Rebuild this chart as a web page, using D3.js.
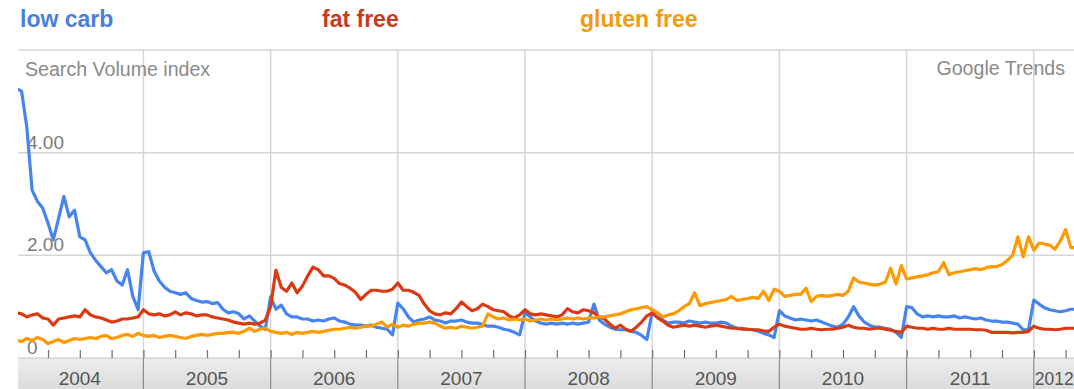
<!DOCTYPE html>
<html>
<head>
<meta charset="utf-8">
<script src="https://cdn.jsdelivr.net/npm/d3@7"></script>
<style>
  body { margin: 0; background: #fff; }
  svg { display: block; font-family: Arial, "Liberation Sans", sans-serif; }
</style>
</head>
<body>
<svg id="chart" width="1074" height="389"></svg>
<script>
// Search volume index, semi-monthly samples starting January 2004
const seriesNames = ["low carb", "fat free", "gluten free"];
const seriesColors = ["#4684ee", "#dc3912", "#ff9900"];
const legendColors = ["#4a80dc", "#c83a1c", "#f29a10"];
const startYear = 2004;
const samplesPerYear = 24;

const lowCarb = [
  5.25, 5.2, 4.5, 3.27, 3.05, 2.92, 2.63, 2.3, 2.72, 3.15,
  2.75, 2.88, 2.36, 2.3, 2.05, 1.9, 1.78, 1.66, 1.72, 1.5,
  1.42, 1.72, 1.2, 0.94, 2.05, 2.07, 1.7, 1.5, 1.38, 1.3,
  1.27, 1.24, 1.27, 1.16, 1.12, 1.09, 1.1, 1.06, 1.08, 0.95,
  0.88, 0.9, 0.86, 0.76, 0.82, 0.72, 0.62, 0.56, 1.19, 0.95,
  1.03, 0.86, 0.8, 0.8, 0.76, 0.76, 0.72, 0.74, 0.72, 0.76,
  0.78, 0.72, 0.7, 0.66, 0.64, 0.64, 0.62, 0.64, 0.6, 0.58,
  0.56, 0.45, 1.07, 0.96, 0.8, 0.7, 0.74, 0.76, 0.8, 0.74,
  0.72, 0.68, 0.72, 0.72, 0.74, 0.7, 0.68, 0.68, 0.65, 0.62,
  0.62, 0.6, 0.56, 0.54, 0.5, 0.45, 0.88, 0.8, 0.72, 0.68,
  0.66, 0.68, 0.66, 0.68, 0.66, 0.68, 0.66, 0.68, 0.7, 1.05,
  0.74, 0.66, 0.6, 0.56, 0.55, 0.55, 0.52, 0.5, 0.44, 0.36,
  0.9, 0.88, 0.74, 0.68, 0.7, 0.7, 0.68, 0.72, 0.7, 0.68,
  0.7, 0.68, 0.68, 0.7, 0.68, 0.62, 0.58, 0.58, 0.56, 0.55,
  0.52, 0.48, 0.45, 0.4, 0.92, 0.82, 0.78, 0.74, 0.76, 0.74,
  0.72, 0.74, 0.7, 0.66, 0.62, 0.6, 0.66, 0.8, 1.0, 0.82,
  0.7, 0.64, 0.6, 0.6, 0.58, 0.56, 0.5, 0.4, 1.0, 0.98,
  0.86, 0.8, 0.82, 0.8, 0.82, 0.8, 0.8, 0.82, 0.78, 0.8,
  0.78, 0.76, 0.78, 0.74, 0.72, 0.72, 0.7, 0.7, 0.68, 0.66,
  0.55, 0.55, 1.13, 1.05, 0.98, 0.94, 0.92, 0.9, 0.92, 0.95,
  0.95
];

const fatFree = [
  0.88, 0.86, 0.8, 0.84, 0.86, 0.78, 0.76, 0.64, 0.76, 0.78,
  0.8, 0.82, 0.8, 0.94, 0.84, 0.8, 0.78, 0.74, 0.7, 0.72,
  0.76, 0.76, 0.78, 0.8, 0.94, 0.86, 0.84, 0.86, 0.82, 0.84,
  0.9, 0.84, 0.88, 0.86, 0.82, 0.84, 0.84, 0.8, 0.78, 0.76,
  0.74, 0.7, 0.68, 0.66, 0.68, 0.66, 0.68, 0.74, 1.0, 1.71,
  1.38, 1.3, 1.46, 1.27, 1.4, 1.6, 1.77, 1.72, 1.6, 1.6,
  1.55, 1.45, 1.42, 1.36, 1.28, 1.14, 1.24, 1.32, 1.32, 1.3,
  1.3, 1.34, 1.46, 1.32, 1.32, 1.28, 1.22, 1.05, 0.92, 0.86,
  0.84, 0.88, 0.86, 0.96, 1.09, 1.0, 0.92, 0.96, 1.05, 1.0,
  0.94, 0.92, 0.9, 0.82, 0.78, 0.84, 0.94, 0.86, 0.84, 0.86,
  0.84, 0.82, 0.8, 0.84, 0.96, 0.9, 0.88, 0.94, 0.92, 0.88,
  0.8, 0.76, 0.66, 0.58, 0.64, 0.56, 0.52, 0.6, 0.7, 0.82,
  0.88, 0.78, 0.72, 0.64, 0.6, 0.62, 0.64, 0.62, 0.64, 0.62,
  0.6, 0.62, 0.64, 0.62, 0.6, 0.58, 0.58, 0.56, 0.56, 0.55,
  0.55, 0.53, 0.52, 0.6, 0.66, 0.62, 0.6, 0.58, 0.56, 0.56,
  0.58, 0.56, 0.55, 0.56, 0.56, 0.58, 0.6, 0.64, 0.6, 0.58,
  0.58, 0.56, 0.58, 0.58, 0.56, 0.54, 0.52, 0.5, 0.62, 0.6,
  0.58, 0.58, 0.56, 0.58, 0.56, 0.56, 0.58, 0.56, 0.56, 0.56,
  0.56, 0.55, 0.55, 0.54, 0.5, 0.5, 0.5, 0.5, 0.49, 0.5,
  0.5, 0.52, 0.62, 0.58, 0.56, 0.56, 0.55, 0.56, 0.58, 0.58,
  0.58
];

const glutenFree = [
  0.35, 0.32, 0.38, 0.34, 0.4, 0.36, 0.28, 0.32, 0.36, 0.3,
  0.34, 0.38, 0.36, 0.38, 0.4, 0.38, 0.42, 0.44, 0.38, 0.4,
  0.44, 0.46, 0.42, 0.48, 0.44, 0.42, 0.44, 0.4, 0.42, 0.44,
  0.42, 0.4, 0.38, 0.42, 0.44, 0.46, 0.44, 0.46, 0.48, 0.48,
  0.5, 0.5, 0.48, 0.52, 0.58, 0.52, 0.56, 0.58, 0.52, 0.5,
  0.48, 0.5, 0.46, 0.5, 0.48, 0.5, 0.52, 0.5, 0.52, 0.54,
  0.56, 0.56, 0.58, 0.6, 0.58, 0.6, 0.62, 0.62, 0.66, 0.7,
  0.6, 0.66, 0.6, 0.64, 0.62, 0.66, 0.68, 0.68, 0.7, 0.68,
  0.62, 0.58, 0.6, 0.58, 0.62, 0.6, 0.58, 0.6, 0.62, 0.86,
  0.8, 0.76, 0.78, 0.74, 0.76, 0.74, 0.76, 0.72, 0.74, 0.76,
  0.74, 0.76, 0.74, 0.76, 0.78, 0.76, 0.78, 0.76, 0.78, 0.78,
  0.8, 0.8, 0.82, 0.84, 0.86, 0.9, 0.94, 0.96, 0.98, 1.0,
  0.94, 0.88, 0.8, 0.84, 0.86, 0.92, 1.0, 1.06, 1.27, 1.02,
  1.06, 1.08, 1.1, 1.12, 1.14, 1.2, 1.12, 1.14, 1.16, 1.18,
  1.16, 1.3, 1.12, 1.34, 1.3, 1.2, 1.22, 1.24, 1.24, 1.36,
  1.1, 1.2, 1.22, 1.2, 1.22, 1.24, 1.22, 1.3, 1.56, 1.48,
  1.46, 1.44, 1.42, 1.44, 1.48, 1.75, 1.44, 1.8, 1.54, 1.56,
  1.58, 1.6, 1.62, 1.66, 1.68, 1.86, 1.62, 1.66, 1.68, 1.7,
  1.72, 1.74, 1.72, 1.76, 1.78, 1.78, 1.82, 1.9, 2.0, 2.36,
  1.97, 2.36, 2.1, 2.24, 2.22, 2.2, 2.12, 2.28, 2.5, 2.15,
  2.15
];

const years = [2004, 2005, 2006, 2007, 2008, 2009, 2010, 2011, 2012];
const yearLabels = ["2004", "2005", "2006", "2007", "2008", "2009", "2010", "2011", "2012"];
const yTicks = [2, 4, 6];
const yTickLabelValues = [0, 2, 4];
const yTickLabels = ["0", "2.00", "4.00"];

const W = 1074, H = 389;
const plot = { left: 18, right: 1074, top: 50, bottom: 358 };

const svg = d3.select("#chart");

const x = d3.scaleLinear().domain([2004, 2012]).range([16.2, 1033.8]);
const y = d3.scaleLinear().domain([0, 6]).range([plot.bottom, plot.top]);

// Year strip under the plot
const defs = svg.append("defs");
const grad = defs.append("linearGradient").attr("id", "strip").attr("x1", 0).attr("y1", 0).attr("x2", 0).attr("y2", 1);
grad.append("stop").attr("offset", "0%").attr("stop-color", "#ededed");
grad.append("stop").attr("offset", "100%").attr("stop-color", "#dcdcdc");
defs.append("clipPath").attr("id", "plotClip")
  .append("rect").attr("x", plot.left).attr("y", 0).attr("width", plot.right - plot.left).attr("height", plot.bottom);

svg.append("rect")
  .attr("x", plot.left).attr("y", plot.bottom)
  .attr("width", plot.right - plot.left).attr("height", H - plot.bottom)
  .attr("fill", "url(#strip)");

// Horizontal grid
svg.append("g").selectAll("line").data(yTicks).join("line")
  .attr("x1", plot.left).attr("x2", plot.right)
  .attr("y1", d => y(d)).attr("y2", d => y(d))
  .attr("stroke", "#d6d6d6").attr("stroke-width", 1.5);

// Vertical year grid
const yearLines = years.slice(1);
svg.append("g").selectAll("line").data(yearLines).join("line")
  .attr("x1", d => x(d)).attr("x2", d => x(d))
  .attr("y1", plot.top).attr("y2", plot.bottom)
  .attr("stroke", "#d6d6d6").attr("stroke-width", 1.5);

svg.append("g").selectAll("line").data(yearLines).join("line")
  .attr("x1", d => x(d)).attr("x2", d => x(d))
  .attr("y1", plot.bottom).attr("y2", H)
  .attr("stroke", "#8c8c8c").attr("stroke-width", 1.2);

// Quarter ticks along the baseline
const quarters = d3.range(2004.25, 2012.5, 0.25).filter(q => x(q) < plot.right);
const xAxis = d3.axisBottom(x).tickValues(quarters).tickSizeInner(-8).tickSizeOuter(0).tickFormat("");
const axisG = svg.append("g").attr("transform", `translate(0,${plot.bottom})`).call(xAxis);
axisG.select(".domain").attr("stroke", "#c4c4c4").attr("d", `M${plot.left},0H${plot.right}`);
axisG.selectAll(".tick line").attr("stroke", "#6e6e6e").attr("stroke-width", 1.2);

// Year labels; the last, partial year starts at its boundary line
const lastYear = years[years.length - 1];
svg.append("g").selectAll("text").data(years).join("text")
  .attr("x", d => (d === lastYear ? x(d) + 1 : (x(d) + x(d + 1)) / 2))
  .attr("text-anchor", d => (d === lastYear ? "start" : "middle"))
  .attr("y", 385)
  .attr("font-size", d => (d === lastYear ? 17.5 : 19))
  .attr("fill", "#555")
  .text((d, i) => yearLabels[i]);

// Y labels
svg.append("g").selectAll("text").data(yTickLabelValues).join("text")
  .attr("x", 27)
  .attr("y", d => y(d) - 4)
  .attr("font-size", 19).attr("fill", "#7a7a7a")
  .text((d, i) => yTickLabels[i]);

svg.append("text").attr("x", 25).attr("y", 76)
  .attr("font-size", 19.6).attr("fill", "#8a8a8a").text("Search Volume index");
svg.append("text").attr("x", 1065).attr("y", 75).attr("text-anchor", "end")
  .attr("font-size", 19.6).attr("fill", "#8a8a8a").text("Google Trends");

// Series lines
const series = [lowCarb, fatFree, glutenFree];
const line = d3.line()
  .x((d, i) => x(startYear + i / samplesPerYear))
  .y(d => y(d))
  .curve(d3.curveLinear);

svg.append("g").attr("clip-path", "url(#plotClip)")
  .selectAll("path").data(series).join("path")
  .attr("d", d => line(d))
  .attr("fill", "none")
  .attr("stroke", (d, i) => seriesColors[i])
  .attr("stroke-width", 3.2)
  .attr("stroke-linejoin", "round")
  .attr("stroke-linecap", "round");

// Legend
const legendX = [20, 322, 580];
svg.append("g").selectAll("text").data(seriesNames).join("text")
  .attr("x", (d, i) => legendX[i])
  .attr("y", 27)
  .attr("font-size", 23).attr("font-weight", "bold")
  .attr("fill", (d, i) => legendColors[i])
  .text(d => d);
</script>
</body>
</html>
